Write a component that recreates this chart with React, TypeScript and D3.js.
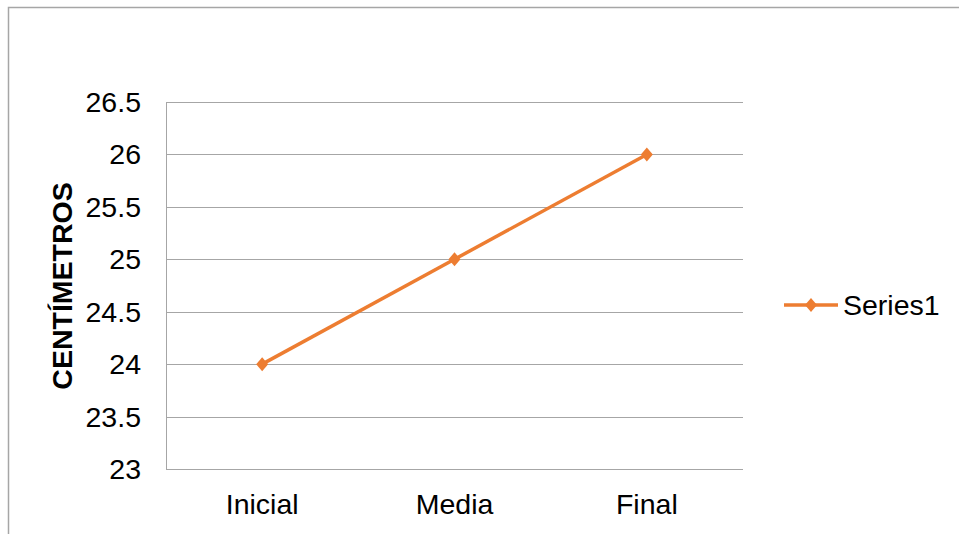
import React from "react";
import * as d3 from "d3";

const categories = ["Inicial", "Media", "Final"];
const seriesName = "Series1";
const values = [24, 25, 26];
const yTicks = [23, 23.5, 24, 24.5, 25, 25.5, 26, 26.5];
const yTitle = "CENTÍMETROS";

export default function App() {
  const W = 959, H = 534;
  const left = 166, right = 743, top = 102, bottom = 469;
  const x = d3.scaleBand<string>().domain(categories).range([left, right]);
  const y = d3.scaleLinear().domain([23, 26.5]).range([bottom, top]);
  const line = d3.line<number>()
    .x((_, i) => (x(categories[i]) as number) + x.bandwidth() / 2)
    .y((d) => y(d));
  const color = "#ED7D31";
  const font = "Arial, 'Liberation Sans', sans-serif";
  const fs = 28.5;
  const diamond = (cx: number, cy: number, rx: number, ry: number) =>
    `M${cx},${cy - ry}L${cx + rx},${cy}L${cx},${cy + ry}L${cx - rx},${cy}Z`;
  return (
    <svg width={W} height={H} style={{ position: "absolute", left: 0, top: 0 }} fontFamily={font}>
      <rect x={0} y={0} width={W} height={H} fill="#fff" />
      <rect x={8.5} y={7.5} width={W + 10} height={H + 10} fill="none" stroke="#a6a6a6" strokeWidth={1.5} />
      {yTicks.map((t) => (
        <g key={t}>
          <line x1={left} x2={right} y1={Math.round(y(t)) + 0.5} y2={Math.round(y(t)) + 0.5} stroke="#a6a6a6" strokeWidth={1} />
          <text x={141} y={y(t)} dy="0.35em" textAnchor="end" fontSize={fs} fill="#000">{t}</text>
        </g>
      ))}
      <line x1={left + 0.5} x2={left + 0.5} y1={top} y2={bottom + 0.5} stroke="#a6a6a6" strokeWidth={1} />
      {categories.map((c) => (
        <text key={c} x={(x(c) as number) + x.bandwidth() / 2} y={514} textAnchor="middle" fontSize={fs} fill="#000">{c}</text>
      ))}
      <text transform={`translate(72,286) rotate(-90)`} textAnchor="middle" fontSize={fs} fontWeight="bold" fill="#000">{yTitle}</text>
      <path d={line(values) || ""} fill="none" stroke={color} strokeWidth={3.5} />
      {values.map((v, i) => {
        const cx = (x(categories[i]) as number) + x.bandwidth() / 2;
        return <path key={i} d={diamond(cx, y(v), 6, 7)} fill={color} />;
      })}
      <line x1={784} x2={838} y1={305} y2={305} stroke={color} strokeWidth={3.5} />
      <path d={diamond(811, 305, 6, 7)} fill={color} />
      <text x={843} y={305} dy="0.35em" fontSize={fs} fill="#000">{seriesName}</text>
    </svg>
  );
}
